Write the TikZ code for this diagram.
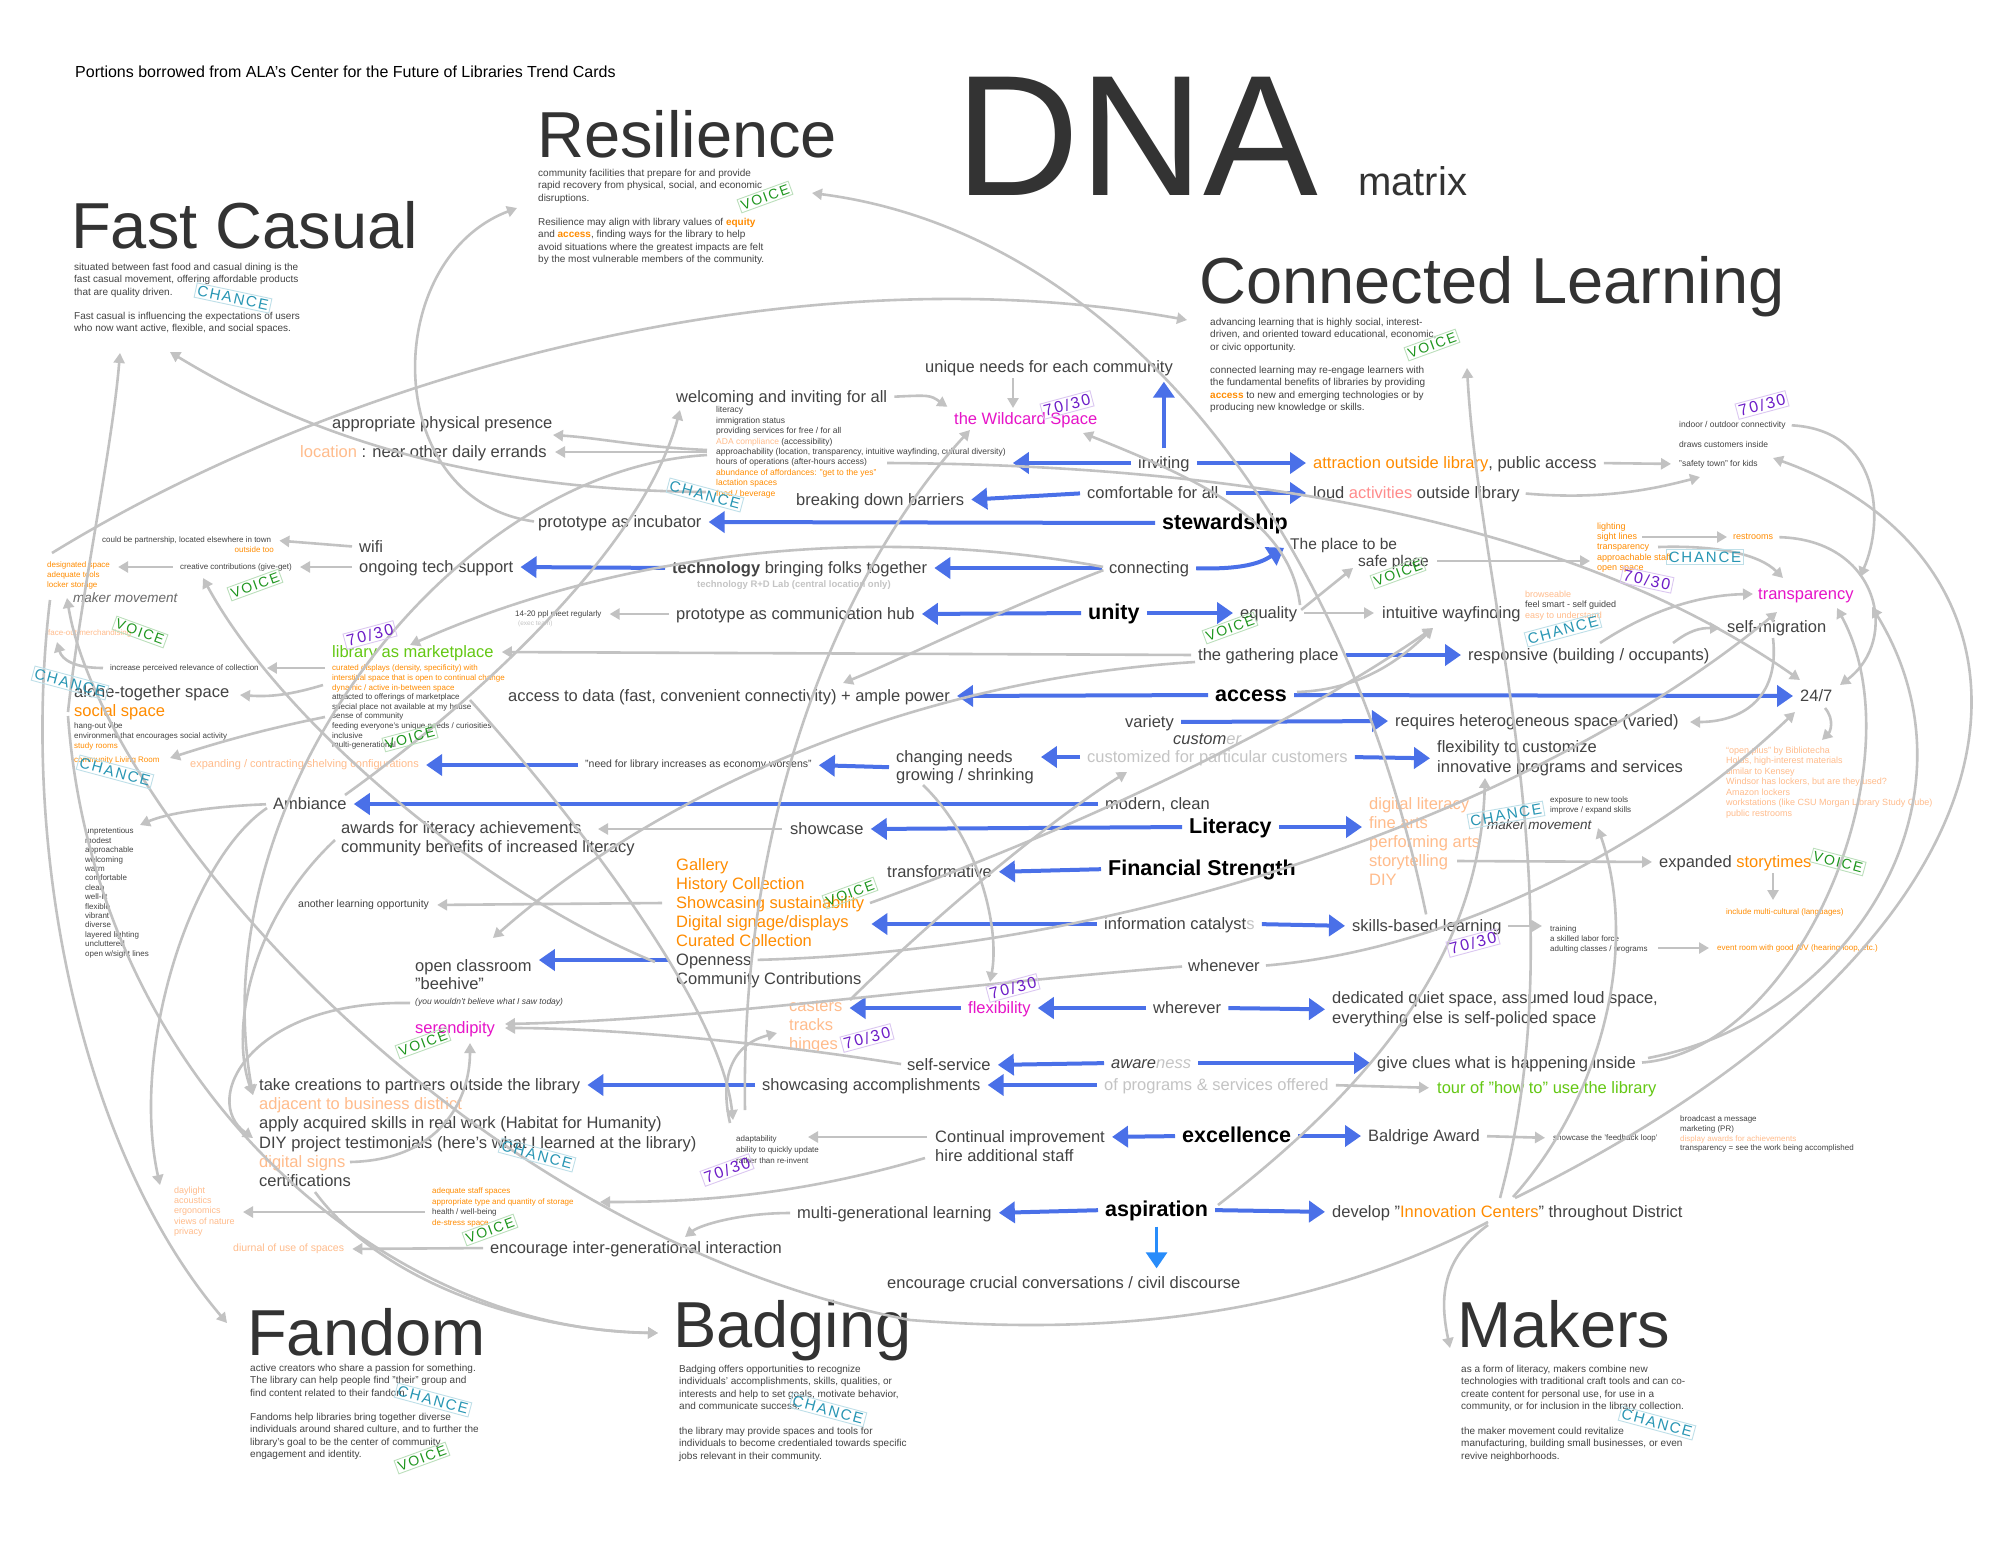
\documentclass[tikz,border=0pt]{standalone}
\usepackage{fontspec}
\setmainfont{Liberation Sans}
\newfontfamily\stampfont[LetterSpace=12]{Liberation Sans}
\usetikzlibrary{arrows.meta,positioning,calc}

\definecolor{ink}{RGB}{67,67,67}
\definecolor{headink}{RGB}{51,51,51}
\definecolor{bluearr}{RGB}{74,112,232}
\definecolor{skyarr}{RGB}{40,140,250}
\definecolor{conn}{RGB}{194,194,194}
\definecolor{orng}{RGB}{255,140,0}
\definecolor{peach}{RGB}{255,188,140}
\definecolor{mag}{RGB}{230,20,200}
\definecolor{lime}{RGB}{100,200,20}
\definecolor{salmon}{RGB}{255,140,140}
\definecolor{lgray}{RGB}{196,196,196}
\definecolor{voicegreen}{RGB}{30,150,30}
\definecolor{chanceteal}{RGB}{40,150,180}
\definecolor{stampviolet}{RGB}{110,30,200}

\tikzset{
  lab/.style={anchor=west, inner sep=0pt, text=ink, font=\fontsize{16.5}{19}\selectfont, text height=12.5pt, text depth=2.5pt},
  hub/.style={anchor=west, inner sep=0pt, text=black, font=\fontsize{21.5}{24}\selectfont\bfseries, text height=16pt, text depth=3pt},
  smallnote/.style={anchor=west, inner sep=0pt, text=ink, font=\fontsize{#1}{#1}\selectfont},
  block/.style={anchor=north west, inner sep=0pt, align=left, text=ink},
  cardtitle/.style={anchor=base west, inner sep=0pt, text=headink, font=\fontsize{65}{65}\selectfont},
  carddesc/.style={anchor=north west, inner sep=0pt, align=left, text=ink, font=\fontsize{10}{12.4}\selectfont},
  bluelink/.style={draw=bluearr, line width=4pt, -{Triangle[length=16pt,width=21pt]}, shorten <=7pt, shorten >=7pt},
  greylink/.style={draw=conn, line width=2.6pt, -{Triangle[length=10pt,width=11pt]}},
  gap/.style={shorten <=7pt, shorten >=8pt},
  stamp/.style={inner sep=2pt, line width=0.9pt, font=\stampfont\fontsize{14}{14}\selectfont},
  voice/.style={stamp, draw=voicegreen!30, text=voicegreen, rotate=#1},
  voice/.default=20,
  chance/.style={stamp, draw=chanceteal!30, text=chanceteal, rotate=#1, font=\stampfont\fontsize{15}{15}\selectfont},
  chance/.default=-15,
  ratio/.style={stamp, draw=stampviolet!25, text=stampviolet, rotate=#1, font=\stampfont\fontsize{16}{16}\selectfont},
  ratio/.default=15
}

\begin{document}
\begin{tikzpicture}[x=1pt, y=-1pt]
\fill[white] (0,0) rectangle (1999,1545);
\useasboundingbox (0,0) rectangle (1999,1545);

% headings
\node[anchor=west, inner sep=0pt, font=\fontsize{16}{18}\selectfont, text=black] (credit) at (75,72) {Portions borrowed from ALA’s Center for the Future of Libraries Trend Cards};
\node[anchor=base west, inner sep=0pt, text=headink, font=\fontsize{172}{172}\selectfont] (dna) at (955,195) {DNA};
\node[anchor=base west, inner sep=0pt, text=headink, font=\fontsize{40}{40}\selectfont] (matrix) at (1358,195) {matrix};

% trend cards
\node[cardtitle] (fastcasual) at (71,248) {Fast Casual};
\node[carddesc] (fcA) at (74,263) {situated between fast food and casual dining is the\\fast casual movement, offering affordable products\\that are quality driven.};
\node[carddesc] (fcB) at (74,312) {Fast casual is influencing the expectations of users\\who now want active, flexible, and social spaces.};
\node[cardtitle] (resilience) at (537,157) {Resilience};
\node[carddesc] (resA) at (538,169) {community facilities that prepare for and provide\\rapid recovery from physical, social, and economic\\disruptions.};
\node[carddesc] (resB) at (538,218) {Resilience may align with library values of {\color{orng}\bfseries equity}\\and {\color{orng}\bfseries access}, finding ways for the library to help\\avoid situations where the greatest impacts are felt\\by the most vulnerable members of the community.};
\node[cardtitle] (connected) at (1199,303) {Connected Learning};
\node[carddesc] (clA) at (1210,318) {advancing learning that is highly social, interest-\\driven, and oriented toward educational, economic,\\or civic opportunity.};
\node[carddesc] (clB) at (1210,366) {connected learning may re-engage learners with\\the fundamental benefits of libraries by providing\\{\color{orng}\bfseries access} to new and emerging technologies or by\\producing new knowledge or skills.};
\node[cardtitle] (fandom) at (247,1355) {Fandom};
\node[carddesc] (fanA) at (250,1364) {active creators who share a passion for something.\\The library can help people find "their" group and\\find content related to their fandom.};
\node[carddesc] (fanB) at (250,1413) {Fandoms help libraries bring together diverse\\individuals around shared culture, and to further the\\library's goal to be the center of community\\engagement and identity.};
\node[cardtitle] (badging) at (673,1347) {Badging};
\node[carddesc] (badA) at (679,1365) {Badging offers opportunities to recognize\\individuals' accomplishments, skills, qualities, or\\interests and help to set goals, motivate behavior,\\and communicate success.};
\node[carddesc] (badB) at (679,1427) {the library may provide spaces and tools for\\individuals to become credentialed towards specific\\jobs relevant in their community.};
\node[cardtitle] (makers) at (1457,1347) {Makers};
\node[carddesc] (makA) at (1461,1365) {as a form of literacy, makers combine new\\technologies with traditional craft tools and can co-\\create content for personal use, for use in a\\community, or for inclusion in the library collection.};
\node[carddesc] (makB) at (1461,1427) {the maker movement could revitalize\\manufacturing, building small businesses, or even\\revive neighborhoods.};

% upper band
\node[lab] (unique) at (925,367) {unique needs for each community};
\node[lab] (welcoming) at (676,397) {welcoming and inviting for all};
\node[lab, text=mag] (wildcard) at (954,419) {the Wildcard Space};
\node[lab] (presence) at (332,423) {appropriate physical presence};
\node[lab] (errands) at (300,452) {{\color{peach}location} : near other daily errands};
\node[block, font=\fontsize{8.5}{10.4}\selectfont] (wlist) at (716,406.6) {literacy\\immigration status\\providing services for free / for all\\{\color{peach}ADA compliance} (accessibility)\\approachability (location, transparency, intuitive wayfinding, cultural diversity)\\hours of operations (after-hours access)\\{\color{orng}abundance of affordances: "get to the yes"}\\{\color{orng}lactation spaces}\\{\color{orng}food / beverage}};
\node[lab] (inviting) at (1138,463) {inviting};
\node[lab] (attraction) at (1313,463) {{\color{orng}attraction outside library}, public access};
\node[lab] (comfortable) at (1087,493) {comfortable for all};
\node[lab] (loud) at (1313,493) {loud {\color{salmon}activities} outside library};
\node[lab] (breaking) at (796,500) {breaking down barriers};
\node[lab] (incub) at (538,522) {prototype as incubator};
\node[hub] (steward) at (1162,523) {stewardship};
\node[lab, font=\fontsize{15.5}{18}\selectfont] (placeto) at (1290,544) {The place to be};
\node[lab, font=\fontsize{15.5}{18}\selectfont] (safeplace) at (1358,561) {safe place};
\node[smallnote=8.5] (indoor) at (1679,425) {indoor / outdoor connectivity};
\node[smallnote=8.5] (draws) at (1679,444) {draws customers inside};
\node[smallnote=8.5] (safety) at (1679,464) {"safety town" for kids};

% technology band
\node[lab] (wifi) at (359,547) {wifi};
\node[lab] (ongoing) at (359,567) {ongoing tech support};
\node[smallnote=8] (couldbe) at (102,540) {could be partnership, located elsewhere in town};
\node[smallnote=8, anchor=east, text=orng] (outside) at (274,550) {outside too};
\node[smallnote=8] (creative) at (180,567) {creative contributions (give-get)};
\node[block, font=\fontsize{8}{9.6}\selectfont, text=orng] (designated) at (47,561.8) {designated space\\adequate tools\\locker storage};
\node[anchor=west, inner sep=0pt, text=ink!80, font=\fontsize{13.5}{15}\selectfont\itshape] (makermov) at (73,598) {maker movement};
\node[smallnote=8, text=peach] (faceout) at (48,633) {face-out merchandising};
\node[lab] (tech) at (672,568) {\textbf{technology} bringing folks together};
\node[smallnote=9.5, text=lgray, font=\fontsize{9.5}{10}\selectfont\bfseries] (techlab) at (697,585) {technology R+D Lab (central location only)};
\node[lab] (connecting) at (1109,568) {connecting};
\node[smallnote=8] (ppl) at (515,614) {14-20 ppl meet regularly};
\node[smallnote=6.5, text=lgray] (exec) at (518,624) {(exec team)};
\node[lab] (commhub) at (676,614) {prototype as communication hub};
\node[hub] (unity) at (1088,613) {unity};
\node[lab] (equality) at (1240,613) {equality};
\node[lab] (intuitive) at (1382,613) {intuitive wayfinding};
\node[block, font=\fontsize{9}{10.8}\selectfont] (browse) at (1525,590.4) {{\color{peach}browseable}\\feel smart - self guided\\{\color{peach}easy to understand}};
\node[block, font=\fontsize{9}{10.4}\selectfont, text=orng] (lighting) at (1597,522.4) {lighting\\sight lines\\transparency\\approachable staff\\open space};
\node[smallnote=9, text=orng] (restrooms) at (1733,537) {restrooms};
\node[lab, text=mag] (transp) at (1758,594) {transparency};
\node[lab] (selfmig) at (1727,627) {self-migration};

% marketplace band
\node[lab, text=lime] (marketplace) at (332,652) {library as marketplace};
\node[smallnote=8] (increase) at (110,668) {increase perceived relevance of collection};
\node[block, font=\fontsize{8}{9.6}\selectfont] (mlist) at (332,664.8) {{\color{orng}curated displays (density, specificity) with}\\{\color{orng}interstitial space that is open to continual change}\\{\color{orng}dynamic / active in-between space}\\attracted to offerings of marketplace\\special place not available at my house\\sense of community\\feeding everyone's unique needs / curiosities\\inclusive\\multi-generational};
\node[lab] (alone) at (74,692) {alone-together space};
\node[lab, text=orng] (social) at (74,711) {social space};
\node[block, font=\fontsize{8}{9.6}\selectfont] (hangout) at (74,722.8) {hang-out vibe\\environment that encourages social activity\\{\color{orng}study rooms}};
\node[smallnote=8, text=orng] (livingroom) at (74,760) {community Living Room};
\node[lab] (gathering) at (1198,655) {the gathering place};
\node[lab] (responsive) at (1468,655) {responsive (building / occupants)};
\node[lab] (accessdata) at (508,696) {access to data (fast, convenient connectivity) + ample power};
\node[hub] (access) at (1215,695) {access};
\node[lab] (t247) at (1800,696) {24/7};
\node[lab] (variety) at (1125,722) {variety};
\node[lab] (requires) at (1395,721) {requires heterogeneous space (varied)};
\node[lab, font=\fontsize{16.5}{19}\selectfont\itshape] (customer) at (1173,739) {custom{\color{lgray}er}};
\node[lab, text=lgray] (customized) at (1087,757) {customized for particular customers};
\node[block, font=\fontsize{16.5}{18}\selectfont] (changing) at (896,750.5) {changing needs\\growing / shrinking};
\node[block, font=\fontsize{16.5}{20}\selectfont] (flexcust) at (1437,740.5) {flexibility to customize\\innovative programs and services};
\node[smallnote=10.5] (needlib) at (585,765) {"need for library increases as economy worsens"};
\node[smallnote=11, text=peach] (expanding) at (190,765) {expanding / contracting shelving configurations};
\node[block, font=\fontsize{9}{10.5}\selectfont, text=peach] (openplus) at (1726,746.4) {``open plus'' by Bibliotecha\\Holds, high-interest materials\\similar to Kensey\\Windsor has lockers, but are they used?\\Amazon lockers\\workstations (like CSU Morgan Library Study Cube)\\public restrooms};

% literacy band
\node[lab] (ambiance) at (273,804) {Ambiance};
\node[lab] (modern) at (1105,804) {modern, clean};
\node[block, font=\fontsize{8}{9.4}\selectfont] (amblist) at (85,827.8) {unpretentious\\modest\\approachable\\welcoming\\warm\\comfortable\\clean\\well-lit\\flexible\\vibrant\\diverse\\layered lighting\\uncluttered\\open w/sight lines};
\node[block, font=\fontsize{16.5}{19}\selectfont] (awards) at (341,821.5) {awards for literacy achievements\\community benefits of increased literacy};
\node[lab] (showcase) at (790,829) {showcase};
\node[hub] (literacy) at (1189,827) {Literacy};
\node[block, font=\fontsize{16.5}{19}\selectfont, text=peach] (diglit) at (1369,797.5) {digital literacy\\fine arts\\performing arts\\storytelling\\DIY};
\node[block, font=\fontsize{8}{9.5}\selectfont] (exposure) at (1550,796.8) {exposure to new tools\\improve / expand skills};
\node[anchor=west, inner sep=0pt, text=ink, font=\fontsize{13.5}{15}\selectfont\itshape] (makermovb) at (1487,825) {maker movement};
\node[block, font=\fontsize{16.5}{19}\selectfont, text=orng] (gallery) at (676,858.5) {Gallery\\History Collection\\Showcasing sustainability\\Digital signage/displays\\Curated Collection};
\node[lab] (openness) at (676,960) {Openness};
\node[lab] (commcontrib) at (676,979) {Community Contributions};
\node[lab] (transformative) at (887,872) {transformative};
\node[hub] (finstr) at (1108,869) {Financial Strength};
\node[lab] (storytimes) at (1659,862) {expanded {\color{orng}storytimes}};
\node[smallnote=8, text=orng] (include) at (1726,912) {include multi-cultural (languages)};
\node[smallnote=10.5] (another) at (298,905) {another learning opportunity};
\node[lab] (infocat) at (1104,924) {information catalyst{\color{lgray}s}};
\node[lab] (skills) at (1352,926) {skills-based learning};
\node[block, font=\fontsize{8}{9.6}\selectfont] (training) at (1550,925.8) {training\\a skilled labor force\\adulting classes / programs};
\node[smallnote=8, text=orng] (eventroom) at (1717,948) {event room with good A/V (hearing loop, etc.)};

% space band
\node[block, font=\fontsize{16.5}{18}\selectfont] (classroom) at (415,959.5) {open classroom\\"beehive"};
\node[smallnote=8.5, font=\fontsize{8.5}{9}\selectfont\itshape] (believe) at (415,1002) {(you wouldn't believe what I saw today)};
\node[lab, text=mag] (serendipity) at (415,1028) {serendipity};
\node[lab] (whenever) at (1188,966) {whenever};
\node[block, font=\fontsize{16.5}{20}\selectfont] (dedicated) at (1332,991.5) {dedicated quiet space, assumed loud space,\\everything else is self-policed space};
\node[block, font=\fontsize{16.5}{19}\selectfont, text=peach] (casters) at (789,1000.5) {casters\\tracks\\hinges};
\node[lab, text=mag] (flexibility) at (968,1008) {flexibility};
\node[lab] (wherever) at (1153,1008) {wherever};

% excellence band
\node[lab] (selfservice) at (907,1065) {self-service};
\node[lab, font=\fontsize{16.5}{19}\selectfont\itshape] (awareness) at (1111,1063) {aware{\color{lgray}ness}};
\node[lab] (giveclues) at (1377,1063) {give clues what is happening inside};
\node[lab] (takecr) at (259,1085) {take creations to partners outside the library};
\node[lab] (showcasing) at (762,1085) {showcasing accomplishments};
\node[lab, text=lgray] (ofprograms) at (1104,1085) {of programs \& services offered};
\node[lab, text=lime] (tour) at (1437,1088) {tour of "how to" use the library};
\node[lab, text=peach] (adjacent) at (259,1104) {adjacent to business district};
\node[lab] (apply) at (259,1123) {apply acquired skills in real work (Habitat for Humanity)};
\node[lab] (diy) at (259,1143) {DIY project testimonials (here's what I learned at the library)};
\node[lab, text=peach] (digsigns) at (259,1162) {digital signs};
\node[lab] (certs) at (259,1181) {certifications};
\node[block, font=\fontsize{8}{9.6}\selectfont] (broadcast) at (1680,1115.8) {broadcast a message\\marketing (PR)\\{\color{peach}display awards for achievements}\\transparency = see the work being accomplished};
\node[smallnote=8] (feedback) at (1553,1138) {showcase the 'feedback loop'};
\node[hub] (excellence) at (1182,1136) {excellence};
\node[lab] (contimp) at (935,1137) {Continual improvement};
\node[lab] (hire) at (935,1156) {hire additional staff};
\node[lab] (baldrige) at (1368,1136) {Baldrige Award};
\node[block, font=\fontsize{8}{10.8}\selectfont] (adapt) at (736,1135.8) {adaptability\\ability to quickly update\\rather than re-invent};
\node[block, font=\fontsize{8}{10.4}\selectfont] (staffsp) at (432,1187.8) {{\color{orng}adequate staff spaces}\\{\color{orng}appropriate type and quantity of storage}\\health / well-being\\{\color{orng}de-stress space}};
\node[block, font=\fontsize{9}{10.4}\selectfont, text=peach] (daylight) at (174,1186.4) {daylight\\acoustics\\ergonomics\\views of nature\\privacy};
\node[lab] (multigen) at (797,1213) {multi-generational learning};
\node[hub] (aspiration) at (1105,1210) {aspiration};
\node[lab] (develop) at (1332,1212) {develop "{\color{orng}Innovation Centers}" throughout District};
\node[lab] (intergen) at (490,1248) {encourage inter-generational interaction};
\node[smallnote=10.5, text=peach] (diurnal) at (233,1249) {diurnal of use of spaces};
\node[lab] (discourse) at (887,1283) {encourage crucial conversations / civil discourse};

% blue links
\draw[bluelink] (steward.west) -- (incub.east);
\draw[bluelink] (inviting.west) -- (wlist.east |- inviting.west);
\draw[bluelink] (inviting.north) -- (inviting.north |- unique.south);
\draw[bluelink] (inviting.east) -- (attraction.west);
\draw[bluelink] (comfortable.west) -- (breaking.east);
\draw[bluelink] (comfortable.east) -- (loud.west);
\draw[bluelink] (tech.west) -- (ongoing.east);
\draw[bluelink] (connecting.west) -- (tech.east);
\draw[bluelink] (connecting.east) .. controls (1250,570) and (1265,560) .. (placeto.west);
\draw[bluelink] (unity.west) -- (commhub.east);
\draw[bluelink] (unity.east) -- (equality.west);
\draw[bluelink] (gathering.east) -- (responsive.west);
\draw[bluelink] (access.west) -- (accessdata.east);
\draw[bluelink] (access.east) -- (t247.west);
\draw[bluelink] (variety.east) -- (requires.west);
\draw[bluelink] (customized.west) -- (changing.east |- customized.west);
\draw[bluelink] (customized.east) -- (flexcust.west);
\draw[bluelink] (changing.west) -- (needlib.east);
\draw[bluelink] (needlib.west) -- (expanding.east);
\draw[bluelink] (modern.west) -- (ambiance.east);
\draw[bluelink] (literacy.west) -- (showcase.east);
\draw[bluelink] (literacy.east) -- (diglit.west |- literacy.east);
\draw[bluelink] (finstr.west) -- (transformative.east);
\draw[bluelink] (infocat.west) -- (gallery.east |- infocat.west);
\draw[bluelink] (infocat.east) -- (skills.west);
\draw[bluelink] (openness.west) -- (classroom.east |- openness.west);
\draw[bluelink] (flexibility.west) -- (casters.east |- flexibility.west);
\draw[bluelink] (wherever.west) -- (flexibility.east);
\draw[bluelink] (wherever.east) -- (dedicated.west);
\draw[bluelink] (awareness.west) -- (selfservice.east);
\draw[bluelink] (awareness.east) -- (giveclues.west);
\draw[bluelink] (ofprograms.west) -- (showcasing.east);
\draw[bluelink] (showcasing.west) -- (takecr.east);
\draw[bluelink] (excellence.west) -- (contimp.east);
\draw[bluelink] (excellence.east) -- (baldrige.west);
\draw[bluelink] (aspiration.west) -- (multigen.east);
\draw[bluelink] (aspiration.east) -- (develop.west);
\draw[bluelink, draw=skyarr, line width=3pt] (aspiration.south) -- (aspiration.south |- discourse.north);

% grey links, short ones
\draw[greylink, gap] (welcoming.east) .. controls (930,395) .. (wildcard.north west);
\draw[greylink] (1013,378) -- (1013,408);
\draw[greylink] (707,452) -- (555,452);
\draw[greylink] (707,450) .. controls (640,447) and (600,438) .. (553,435);
\draw[greylink, gap] (wifi.west) -- (couldbe.east);
\draw[greylink, gap] (ongoing.west) -- (creative.east);
\draw[greylink, gap] (creative.west) -- (designated.east |- creative.west);
\draw[greylink, gap] (mlist.west |- increase.east) -- (increase.east);
\draw[greylink, shorten <=7pt] (increase.west) .. controls (75,668) and (62,660) .. (57,642);
\draw[greylink] (323,685) .. controls (290,695) and (270,697) .. (240,695);
\draw[greylink] (325,717) .. controls (260,730) and (210,745) .. (170,758);
\draw[greylink, gap] (gathering.west) -- (marketplace.east);
\draw[greylink, gap] (commhub.west) -- (ppl.east);
\draw[greylink, shorten <=8pt] (showcase.west) -- (598,829);
\draw[greylink, shorten >=8pt] (662,903) -- (another.east);
\draw[greylink, shorten <=7pt] (ambiance.west) .. controls (220,806) and (170,812) .. (140,825);
\draw[greylink] (267,808) .. controls (190,860) and (130,1050) .. (160,1185);
\draw[greylink] (425,1212) -- (243,1212);
\draw[greylink, gap] (intergen.west) -- (diurnal.east);
\draw[greylink, shorten <=7pt] (multigen.west) .. controls (740,1213) and (700,1225) .. (685,1237);
\draw[greylink, shorten <=8pt] (contimp.west) -- (808,1137);
\draw[greylink] (925,1158) .. controls (800,1195) and (700,1202) .. (600,1202);
\draw[greylink, gap] (baldrige.east) -- (feedback.west);
\draw[greylink, gap] (ofprograms.east) -- (tour.west);
\draw[greylink, shorten <=8pt] (safeplace.east) -- (1590,561);
\draw[greylink, shorten >=6pt] (1642,537) -- (restrooms.west);
\draw[greylink] (1658,547) .. controls (1720,545) and (1760,555) .. (1783,578);
\draw[greylink, shorten <=6pt] (restrooms.east) .. controls (1880,540) and (1900,640) .. (1840,685);
\draw[greylink] (1600,643) .. controls (1650,610) and (1700,595) .. (1753,594);
\draw[greylink] (1673,643) .. controls (1690,630) and (1700,628) .. (1720,628);
\draw[greylink] (1773,638) .. controls (1780,700) and (1740,722) .. (1690,722);
\draw[greylink] (1825,708) .. controls (1835,720) and (1830,732) .. (1822,740);
\draw[greylink, shorten >=7pt] (1457,861) -- (storytimes.west);
\draw[greylink] (1773,873) -- (1773,900);
\draw[greylink, shorten <=6pt] (skills.east) -- (1542,926);
\draw[greylink, shorten >=8pt] (1658,948) -- (eventroom.west);
\draw[greylink, shorten <=5pt] (equality.east) -- (1353,568);
\draw[greylink, gap] (equality.east) -- (intuitive.west);
\draw[greylink, gap] (attraction.east) -- (safety.west);
\draw[greylink, shorten <=6pt] (loud.east) .. controls (1600,500) and (1650,490) .. (1700,477);
\draw[greylink, shorten <=6pt] (indoor.east) .. controls (1880,430) and (1885,520) .. (1860,577);

% grey links, long ones
\draw[greylink] (706,492) .. controls (450,490) and (290,425) .. (170,352);
\draw[greylink] (68,712) .. controls (80,600) and (112,450) .. (120,353);
\draw[greylink] (52,553) .. controls (350,370) and (800,250) .. (1187,320);
\draw[greylink, shorten <=4pt] (incub.west) .. controls (380,500) and (380,260) .. (517,208);
\draw[greylink, shorten <=4pt] (skills.north) .. controls (1340,500) and (1100,230) .. (812,193);
\draw[greylink] (1500,1198) .. controls (1580,900) and (1480,600) .. (1467,368);
\draw[greylink] (50,600) .. controls (20,850) and (80,1150) .. (227,1323);
\draw[greylink] (68,716) .. controls (95,1080) and (380,1330) .. (658,1333);
\draw[greylink] (315,1192) .. controls (380,1280) and (520,1330) .. (658,1333);
\draw[greylink] (1488,1225) .. controls (1440,1260) and (1440,1300) .. (1450,1348);
\draw[greylink] (1488,1222) .. controls (1300,1320) and (1100,1335) .. (910,1320) .. controls (450,1230) and (100,800) .. (67,598);
\draw[greylink] (1300,605) .. controls (1290,520) and (1200,480) .. (1083,433);
\draw[greylink] (887,463) .. controls (1300,465) and (1600,540) .. (1800,680);
\draw[greylink] (1515,1198) .. controls (2080,920) and (2060,560) .. (1773,458);
\draw[greylink, shorten <=6pt] (giveclues.east) .. controls (1800,1050) and (1920,760) .. (1837,608);
\draw[greylink] (1648,1058) .. controls (1850,1020) and (1990,800) .. (1872,607);
\draw[greylink] (1218,1205) .. controls (1380,1080) and (1480,950) .. (1485,778);
\draw[greylink] (1513,1197) .. controls (1600,1100) and (1640,950) .. (1598,828);
\draw[greylink, shorten <=6pt] (openness.east) .. controls (1150,950) and (1550,800) .. (1777,612);
\draw[greylink, shorten <=6pt] (whenever.east) .. controls (1450,950) and (1650,850) .. (1795,712);
\draw[greylink] (870,903) .. controls (1100,820) and (1300,720) .. (1433,628);
\draw[greylink] (1297,692) .. controls (1360,690) and (1400,660) .. (1433,628);
\draw[greylink] (850,1000) .. controls (930,920) and (1050,820) .. (1127,772);
\draw[greylink] (923,785) .. controls (980,840) and (1000,930) .. (990,982);
\draw[greylink] (730,1123) .. controls (720,1080) and (730,1045) .. (777,1033);
\draw[greylink] (470,700) .. controls (560,800) and (720,1000) .. (733,1120);
\draw[greylink] (745,1110) .. controls (740,800) and (850,560) .. (970,430);
\draw[greylink] (655,962) .. controls (480,890) and (280,720) .. (203,578);
\draw[greylink] (1195,662) .. controls (900,680) and (650,800) .. (493,938);
\draw[greylink, shorten <=6pt] (connecting.west) .. controls (850,520) and (600,560) .. (410,645);
\draw[greylink, shorten <=6pt] (connecting.west) .. controls (1000,610) and (900,660) .. (843,683);
\draw[greylink] (335,840) .. controls (250,920) and (230,1030) .. (253,1095);
\draw[greylink] (410,1003) .. controls (250,1000) and (200,1100) .. (253,1138);
\draw[greylink] (707,455) .. controls (450,470) and (200,800) .. (253,1095);
\draw[greylink] (345,795) .. controls (450,720) and (640,560) .. (680,410);
\draw[greylink] (350,1162) .. controls (440,1160) and (470,1100) .. (470,1043);
\draw[greylink, shorten <=6pt] (selfservice.west) .. controls (750,1040) and (600,1028) .. (505,1028);
\draw[greylink, shorten <=6pt] (whenever.west) .. controls (900,990) and (700,1020) .. (505,1024);

% stamps
\node[voice] (v1) at (765,197) {VOICE};
\node[voice] (v2) at (1432,345) {VOICE};
\node[voice] (v3) at (255,585) {VOICE};
\node[voice=-20] (v4) at (140,632) {VOICE};
\node[voice=15] (v5) at (410,738) {VOICE};
\node[voice] (v6) at (850,893) {VOICE};
\node[voice] (v7) at (1398,573) {VOICE};
\node[voice] (v8) at (1230,628) {VOICE};
\node[voice=-15] (v9) at (1838,862) {VOICE};
\node[voice] (v10) at (423,1043) {VOICE};
\node[voice] (v11) at (490,1230) {VOICE};
\node[voice] (v12) at (422,1458) {VOICE};
\node[chance=-12] (c1) at (233,298) {CHANCE};
\node[chance] (c2) at (705,495) {CHANCE};
\node[chance] (c3) at (70,683) {CHANCE};
\node[chance] (c4) at (115,772) {CHANCE};
\node[chance=15] (c5) at (1563,630) {CHANCE};
\node[chance=0] (c6) at (1705,557) {CHANCE};
\node[chance=10] (c7) at (1506,815) {CHANCE};
\node[chance] (c8) at (537,1155) {CHANCE};
\node[chance] (c9) at (433,1400) {CHANCE};
\node[chance] (c10) at (828,1410) {CHANCE};
\node[chance] (c11) at (1657,1423) {CHANCE};
\node[ratio] (r1) at (1067,405) {70/30};
\node[ratio] (r2) at (1762,405) {70/30};
\node[ratio] (r3) at (370,635) {70/30};
\node[ratio=-12] (r4) at (1647,580) {70/30};
\node[ratio] (r5) at (1013,988) {70/30};
\node[ratio] (r6) at (867,1038) {70/30};
\node[ratio] (r7) at (1473,943) {70/30};
\node[ratio=20] (r8) at (727,1170) {70/30};
\end{tikzpicture}
\end{document}
